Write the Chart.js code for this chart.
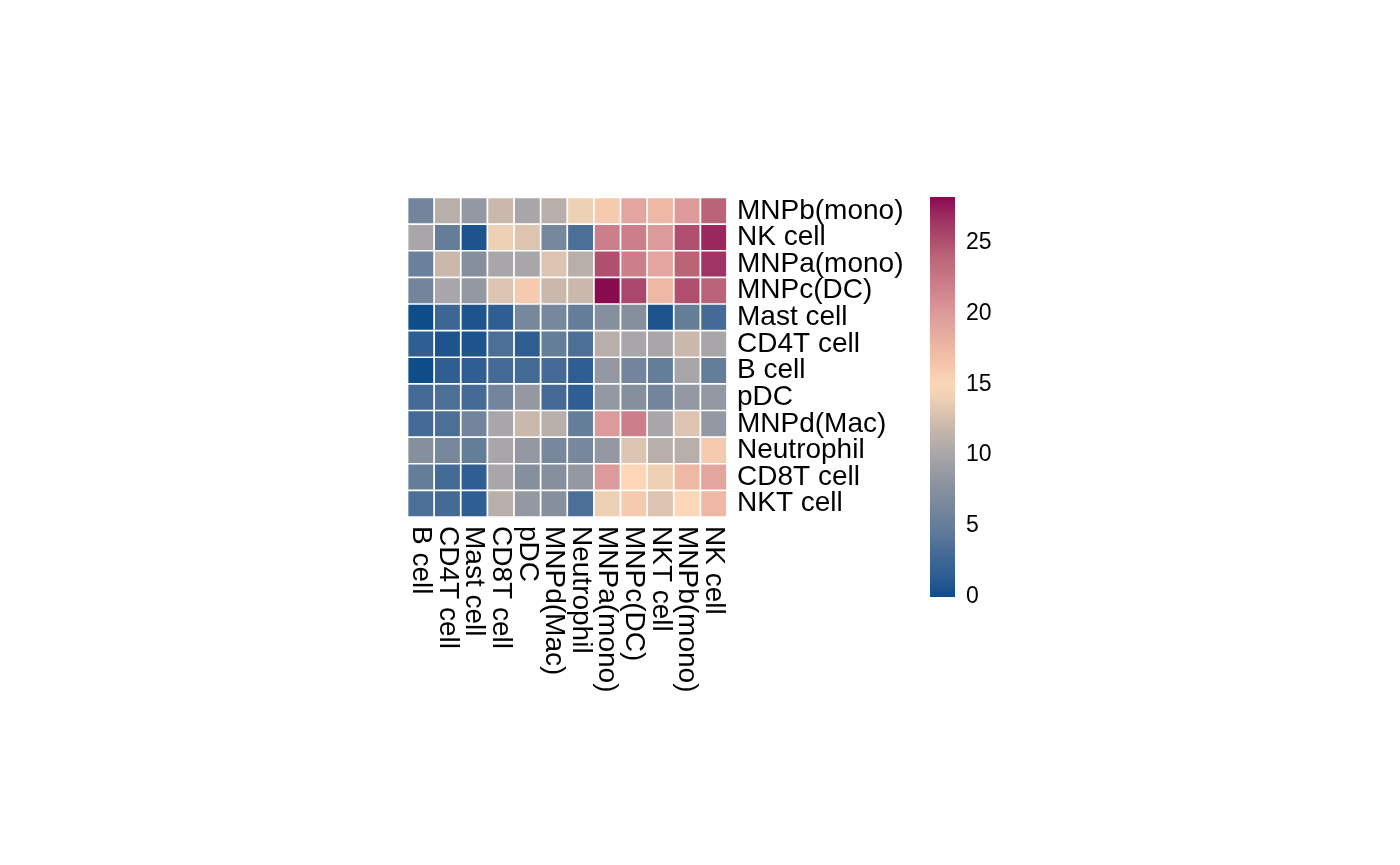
<!DOCTYPE html>
<html>
<head>
<meta charset="utf-8">
<script src="https://cdn.jsdelivr.net/npm/chart.js@4/dist/chart.umd.min.js"></script>
<style>
  html, body { margin: 0; padding: 0; background: #fff; }
  #wrap { position: relative; width: 1400px; height: 865px; }
  canvas { position: absolute; left: 0; top: 0; }
</style>
</head>
<body>
<div id="wrap">
  <canvas id="heat" width="1400" height="865"></canvas>
  <canvas id="legend" width="1400" height="865"></canvas>
</div>
<script>
// rows top -> bottom, columns left -> right
const rowLabels = ["MNPb(mono)", "NK cell", "MNPa(mono)", "MNPc(DC)", "Mast cell", "CD4T cell",
    "B cell", "pDC", "MNPd(Mac)", "Neutrophil", "CD8T cell", "NKT cell"];
const colLabels = ["B cell", "CD4T cell", "Mast cell", "CD8T cell", "pDC", "MNPd(Mac)",
    "Neutrophil", "MNPa(mono)", "MNPc(DC)", "NKT cell", "MNPb(mono)", "NK cell"];

const mnpbMono  = [6, 11, 8.5, 12, 10, 11, 14, 16, 19, 17.5, 20, 24];
const nkCell    = [10, 5, 0.7, 14, 13, 6.5, 3.5, 22, 22, 20, 25, 27];
const mnpaMono  = [5.5, 12, 7.5, 10, 10, 13, 11, 25, 22, 19, 24, 26.5];
const mnpcDC    = [6, 10, 8.5, 13, 16, 12, 12, 28.2, 25.5, 17.5, 25, 24];
const mastCell  = [0, 2.5, 0.7, 1.5, 6.5, 6.5, 5, 7.5, 7.5, 0.7, 5, 3];
const cd4tCell  = [1.5, 0.7, 0.7, 3.5, 1.5, 5, 3.5, 11, 10, 10, 12, 10];
const bCell     = [0, 1.5, 1.5, 3, 3, 3, 1.5, 8.5, 6, 5, 10, 5];
const pDC       = [3, 3.5, 3, 6, 8.5, 3, 1.5, 8.5, 7.5, 6, 8.5, 8.5];
const mnpdMac   = [3, 3.5, 6, 10, 12, 11, 5, 20, 22, 10, 13, 8.5];
const neutro    = [7.5, 6.5, 5, 10, 8.5, 6.5, 6.5, 8.5, 13, 11, 11, 16];
const cd8tCell  = [5, 3, 1.5, 10, 7.5, 7.5, 8.5, 20, 15, 14, 17.5, 19];
const nktCell   = [3.5, 3, 1.5, 11, 8.5, 7.5, 3.5, 14, 16, 13, 15, 17.5];

const values = [mnpbMono, nkCell, mnpaMono, mnpcDC, mastCell, cd4tCell,
    bCell, pDC, mnpdMac, neutro, cd8tCell, nktCell];

const scaleMin = 0;
const scaleMax = 28.2;
const legendTicks = [0, 5, 10, 15, 20, 25];

// colour ramp
const stopVals = [0, 1.5, 3, 5, 7.5, 10, 12, 14, 15, 17.5, 20, 22, 24, 25, 26.5, 28.2];
const stopCols = ["#0f4c8a", "#2e5e92", "#446a96", "#647e9a", "#868f9e", "#a8a6a8", "#cab8ac",
    "#eed0b4", "#fcd6b6", "#eeb8a4", "#dc9a9a", "#cc7e8a", "#ba6478", "#b0506e", "#a03464", "#8a0a50"];

function hexRgb(h) {
    return [parseInt(h.slice(1, 3), 16), parseInt(h.slice(3, 5), 16), parseInt(h.slice(5, 7), 16)];
}
function colorFor(v) {
    if (v <= stopVals[0]) return stopCols[0];
    for (let i = 1; i < stopVals.length; i++) {
        if (v <= stopVals[i]) {
            const t = (v - stopVals[i - 1]) / (stopVals[i] - stopVals[i - 1]);
            const a = hexRgb(stopCols[i - 1]), b = hexRgb(stopCols[i]);
            const c = a.map((x, k) => Math.round(x + (b[k] - x) * t));
            return `rgb(${c[0]},${c[1]},${c[2]})`;
        }
    }
    return stopCols[stopCols.length - 1];
}

const FONT = "'Liberation Sans', Arial, Helvetica, sans-serif";

// one dataset per column, floating bars [c, c+1] on every row
const datasets = colLabels.map((name, c) => ({
    label: name,
    data: rowLabels.map(() => [c, c + 1]),
    backgroundColor: values.map(row => colorFor(row[c])),
    borderColor: "#ffffff",
    borderWidth: 1.2,
    borderSkipped: false,
    grouped: false,
    barPercentage: 1,
    categoryPercentage: 1,
}));

const colLabelPlugin = {
    id: "colLabels",
    afterDraw(chart) {
        const { ctx, chartArea, scales } = chart;
        ctx.save();
        ctx.fillStyle = "#000";
        ctx.font = "28px " + FONT;
        ctx.textAlign = "left";
        ctx.textBaseline = "middle";
        colLabels.forEach((lab, c) => {
            const x = scales.x.getPixelForValue(c + 0.5);
            ctx.save();
            ctx.translate(x, chartArea.bottom + 9);
            ctx.rotate(Math.PI / 2);
            ctx.fillText(lab, 0, 0);
            ctx.restore();
        });
        ctx.restore();
    },
};

new Chart(document.getElementById("heat"), {
    type: "bar",
    data: { labels: rowLabels, datasets: datasets },
    options: {
        indexAxis: "y",
        responsive: false,
        animation: false,
        layout: { padding: { left: 407.5, top: 197.5, bottom: 348, right: 473 } },
        plugins: { legend: { display: false }, tooltip: { enabled: false } },
        scales: {
            x: { type: "linear", min: 0, max: colLabels.length, display: false },
            y: {
                type: "category",
                position: "right",
                grid: { display: false, drawTicks: false },
                border: { display: false },
                ticks: {
                    color: "#000",
                    padding: 10,
                    autoSkip: false,
                    font: { size: 28, family: FONT },
                },
                afterFit(scale) { scale.width = 200; },
            },
        },
    },
    plugins: [colLabelPlugin],
});

// colour key
new Chart(document.getElementById("legend"), {
    type: "bar",
    data: {
        labels: [""],
        datasets: [{
            data: [[scaleMin, scaleMax]],
            barPercentage: 1,
            categoryPercentage: 1,
            borderWidth: 0,
            backgroundColor(context) {
                const { chart } = context;
                const { chartArea, scales } = chart;
                if (!chartArea) return stopCols[0];
                const y0 = scales.y.getPixelForValue(scaleMin);
                const y1 = scales.y.getPixelForValue(scaleMax);
                const g = chart.ctx.createLinearGradient(0, y0, 0, y1);
                stopVals.forEach((v, i) => g.addColorStop((v - scaleMin) / (scaleMax - scaleMin), stopCols[i]));
                return g;
            },
        }],
    },
    options: {
        responsive: false,
        animation: false,
        layout: { padding: { left: 930, top: 197, bottom: 268, right: 385 } },
        plugins: { legend: { display: false }, tooltip: { enabled: false } },
        scales: {
            x: { display: false },
            y: {
                position: "right",
                min: scaleMin,
                max: scaleMax,
                grid: { display: false, drawTicks: false },
                border: { display: false },
                afterBuildTicks(scale) { scale.ticks = legendTicks.map(v => ({ value: v })); },
                ticks: {
                    color: "#000",
                    padding: 11,
                    font: { size: 23, family: FONT },
                },
                afterFit(scale) { scale.width = 60; },
            },
        },
    },
});
</script>
</body>
</html>
